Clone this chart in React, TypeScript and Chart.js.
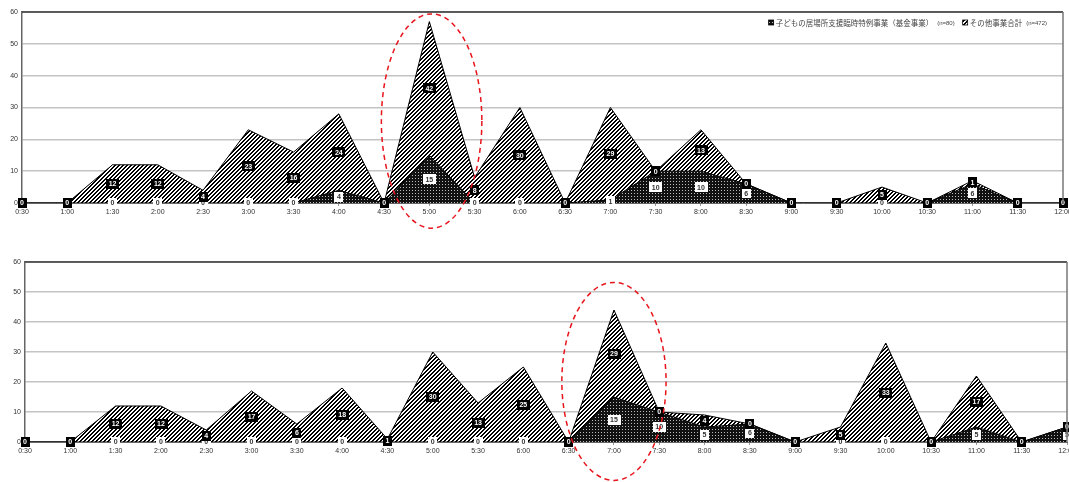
import React, { useEffect, useRef } from 'react';
import { Chart, registerables } from 'chart.js';

Chart.register(...registerables);

const timeLabels = ['0:30', '1:00', '1:30', '2:00', '2:30', '3:00', '3:30', '4:00', '4:30', '5:00', '5:30', '6:00', '6:30', '7:00', '7:30', '8:00', '8:30', '9:00', '9:30', '10:00', '10:30', '11:00', '11:30', '12:00'];

const seriesNames = ['子どもの居場所支援臨時特例事業（基金事業）', 'その他事業合計'];
const seriesCounts = ['(n=80)', '(n=472)'];

const topKodomo = [0, 0, 0, 0, 0, 0, 0, 4, 0, 15, 0, 0, 0, 1, 10, 10, 6, 0, 0, 0, 0, 6, 0, 0];
const topOther = [0, 0, 12, 12, 4, 23, 16, 24, 0, 42, 8, 30, 0, 29, 0, 13, 0, 0, 0, 5, 0, 1, 0, 0];

const bottomKodomo = [0, 0, 0, 0, 0, 0, 0, 0, 0, 0, 0, 0, 0, 15, 10, 5, 6, 0, 0, 0, 0, 5, 0, 5];
const bottomOther = [0, 0, 12, 12, 4, 17, 6, 18, 1, 30, 13, 25, 0, 29, 0, 4, 0, 0, 5, 33, 0, 17, 0, 0];

const yTicks = [0, 10, 20, 30, 40, 50, 60];

const FONT = '"Liberation Sans", Arial, "Noto Sans CJK JP", sans-serif';
const JFONT = '"Noto Sans CJK JP", "Liberation Sans", sans-serif';

function makeHatch(): CanvasPattern | string {
  const c = document.createElement('canvas');
  c.width = 4; c.height = 4;
  const g = c.getContext('2d');
  if (!g) return '#888';
  g.fillStyle = '#ffffff';
  g.fillRect(0, 0, 4, 4);
  g.fillStyle = '#000000';
  for (let i = 0; i < 4; i++) {
    g.fillRect((3 - i + 4) % 4, i, 1, 1);
    g.fillRect((4 - i + 4) % 4, i, 1, 1);
  }
  return g.createPattern(c, 'repeat') || '#888';
}

function makeChecker(): CanvasPattern | string {
  const c = document.createElement('canvas');
  c.width = 3; c.height = 3;
  const g = c.getContext('2d');
  if (!g) return '#333';
  g.fillStyle = '#111111';
  g.fillRect(0, 0, 3, 3);
  g.fillStyle = '#bbbbbb';
  g.fillRect(1, 1, 1, 1);
  return g.createPattern(c, 'repeat') || '#333';
}

type PanelProps = {
  kodomo: number[];
  other: number[];
  top: number;
  height: number;
  padTop: number;
  padRight: number;
  yWidth: number;
  xHeight: number;
  ellipse: { idx: number; rx: number; yTop: number; yBot: number; dx: number };
  showLegend: boolean;
};

function Panel(p: PanelProps) {
  const ref = useRef<HTMLCanvasElement | null>(null);
  useEffect(() => {
    if (!ref.current) return;
    const hatch = makeHatch();
    const checker = makeChecker();

    const labelPlugin = {
      id: 'valueLabels',
      afterDatasetsDraw(chart: any) {
        const ctx = chart.ctx;
        const xs = chart.scales.x;
        const ys = chart.scales.y;
        const d0 = p.kodomo;
        const d1 = p.other;
        ctx.save();
        ctx.font = 'bold 7px ' + FONT;
        ctx.textAlign = 'center';
        ctx.textBaseline = 'middle';
        const box = (txt: string, x: number, y: number, bg: string, fg: string) => {
          const w = ctx.measureText(txt).width + 5;
          const h = 10;
          ctx.fillStyle = bg;
          ctx.fillRect(Math.round(x - w / 2), Math.round(y - h / 2), Math.round(w), h);
          ctx.fillStyle = fg;
          ctx.fillText(txt, x, y + 0.5);
        };
        d0.forEach((v, i) => {
          box(String(v), xs.getPixelForValue(i), ys.getPixelForValue(v / 2), '#ffffff', '#333333');
        });
        d1.forEach((v, i) => {
          box(String(v), xs.getPixelForValue(i), ys.getPixelForValue(d0[i] + v / 2), '#000000', '#ffffff');
        });
        ctx.restore();
      },
      afterDraw(chart: any) {
        const ctx = chart.ctx;
        const a = chart.chartArea;
        const xs = chart.scales.x;
        const ys = chart.scales.y;
        ctx.save();
        // frame
        ctx.strokeStyle = '#333333';
        ctx.lineWidth = 1.5;
        ctx.beginPath();
        ctx.moveTo(a.left, a.top);
        ctx.lineTo(a.right, a.top);
        ctx.stroke();
        ctx.strokeStyle = '#777777';
        ctx.beginPath();
        ctx.moveTo(a.right, a.top);
        ctx.lineTo(a.right, a.bottom);
        ctx.stroke();

        // legend
        if (p.showLegend) {
          const endX = a.right - 16;
          const ly = a.top + 11;
          const parts: { w: number; jw: number; nw: number }[] = [];
          let total = 0;
          seriesNames.forEach((nm, k) => {
            ctx.font = '7.5px ' + JFONT;
            const jw = ctx.measureText(nm).width;
            ctx.font = '6px ' + FONT;
            const nw = ctx.measureText(seriesCounts[k]).width;
            const w = 6 + 1 + jw + 4 + nw;
            parts.push({ w, jw, nw });
            total += w;
          });
          total += 8;
          let x = endX - total;
          seriesNames.forEach((nm, k) => {
            const pat = k === 0 ? checker : hatch;
            ctx.fillStyle = pat as any;
            ctx.fillRect(x, ly - 3, 5, 5);
            ctx.strokeStyle = '#000';
            ctx.lineWidth = 0.8;
            ctx.strokeRect(x, ly - 3, 5, 5);
            ctx.fillStyle = '#444444';
            ctx.textBaseline = 'middle';
            ctx.textAlign = 'left';
            ctx.font = '7.5px ' + JFONT;
            ctx.fillText(nm, x + 7, ly);
            ctx.font = '6px ' + FONT;
            ctx.fillText(seriesCounts[k], x + 7 + parts[k].jw + 4, ly);
            x += parts[k].w + 8;
          });
        }

        // dashed ellipse
        const e = p.ellipse;
        const sp = xs.getPixelForValue(1) - xs.getPixelForValue(0);
        const cx = xs.getPixelForValue(e.idx) + e.dx * sp;
        const yT = ys.getPixelForValue(e.yTop);
        const yB = ys.getPixelForValue(e.yBot);
        ctx.strokeStyle = '#e8141c';
        ctx.lineWidth = 1.5;
        ctx.setLineDash([5, 4]);
        ctx.beginPath();
        ctx.ellipse(cx, (yT + yB) / 2, e.rx * sp, (yB - yT) / 2, 0, 0, Math.PI * 2);
        ctx.stroke();
        ctx.restore();
      }
    };

    const chart = new Chart(ref.current, {
      type: 'line',
      data: {
        labels: timeLabels,
        datasets: [
          {
            label: seriesNames[0],
            data: p.kodomo,
            backgroundColor: checker as any,
            borderColor: '#000000',
            borderWidth: 1,
            fill: 'origin',
            pointRadius: 0,
            tension: 0
          },
          {
            label: seriesNames[1],
            data: p.other,
            backgroundColor: hatch as any,
            borderColor: '#000000',
            borderWidth: 1,
            fill: '-1',
            pointRadius: 0,
            tension: 0
          }
        ]
      },
      options: {
        responsive: false,
        animation: false,
        events: [],
        layout: { padding: { top: p.padTop, right: p.padRight, left: 0, bottom: 0 } },
        plugins: { legend: { display: false }, tooltip: { enabled: false } },
        scales: {
          x: {
            type: 'category',
            offset: false,
            grid: { display: true, drawOnChartArea: false, drawTicks: true, tickLength: 3, color: '#999999' },
            border: { display: true, color: '#666666', width: 1 },
            ticks: { font: { size: 7, family: FONT }, color: '#333333', padding: 2, maxRotation: 0, autoSkip: false },
            afterFit(s: any) {
              s.height = p.xHeight;
              s.paddingLeft = 0;
              s.paddingRight = 0;
            }
          },
          y: {
            stacked: true,
            min: 0,
            max: 60,
            afterBuildTicks(s: any) {
              s.ticks = yTicks.map((v) => ({ value: v }));
            },
            ticks: { font: { size: 7, family: FONT }, color: '#333333', padding: 4 },
            grid: { color: '#c4c4c4', lineWidth: 1.5, drawTicks: false },
            border: { display: true, color: '#666666', width: 1.5 },
            afterFit(s: any) {
              s.width = p.yWidth;
              s.paddingTop = 0;
              s.paddingBottom = 0;
            }
          }
        }
      } as any,
      plugins: [labelPlugin]
    });
    return () => chart.destroy();
  }, []);
  return (
    <canvas
      ref={ref}
      width={1069}
      height={p.height}
      style={{ position: 'absolute', left: 0, top: p.top, width: 1069, height: p.height, display: 'block' }}
    />
  );
}

export default function App() {
  return (
    <div style={{ position: 'absolute', left: 0, top: 0, width: 1069, height: 482, background: '#ffffff', overflow: 'hidden' }}>
      <Panel
        kodomo={topKodomo}
        other={topOther}
        top={0}
        height={235}
        padTop={12}
        padRight={6}
        yWidth={22}
        xHeight={32}
        ellipse={{ idx: 9, rx: 1.11, yTop: 59.4, yBot: -7.9, dx: 0.05 }}
        showLegend={true}
      />
      <Panel
        kodomo={bottomKodomo}
        other={bottomOther}
        top={245}
        height={237}
        padTop={17}
        padRight={2}
        yWidth={25}
        xHeight={40}
        ellipse={{ idx: 13, rx: 1.15, yTop: 53.2, yBot: -12.8, dx: 0 }}
        showLegend={false}
      />
    </div>
  );
}
